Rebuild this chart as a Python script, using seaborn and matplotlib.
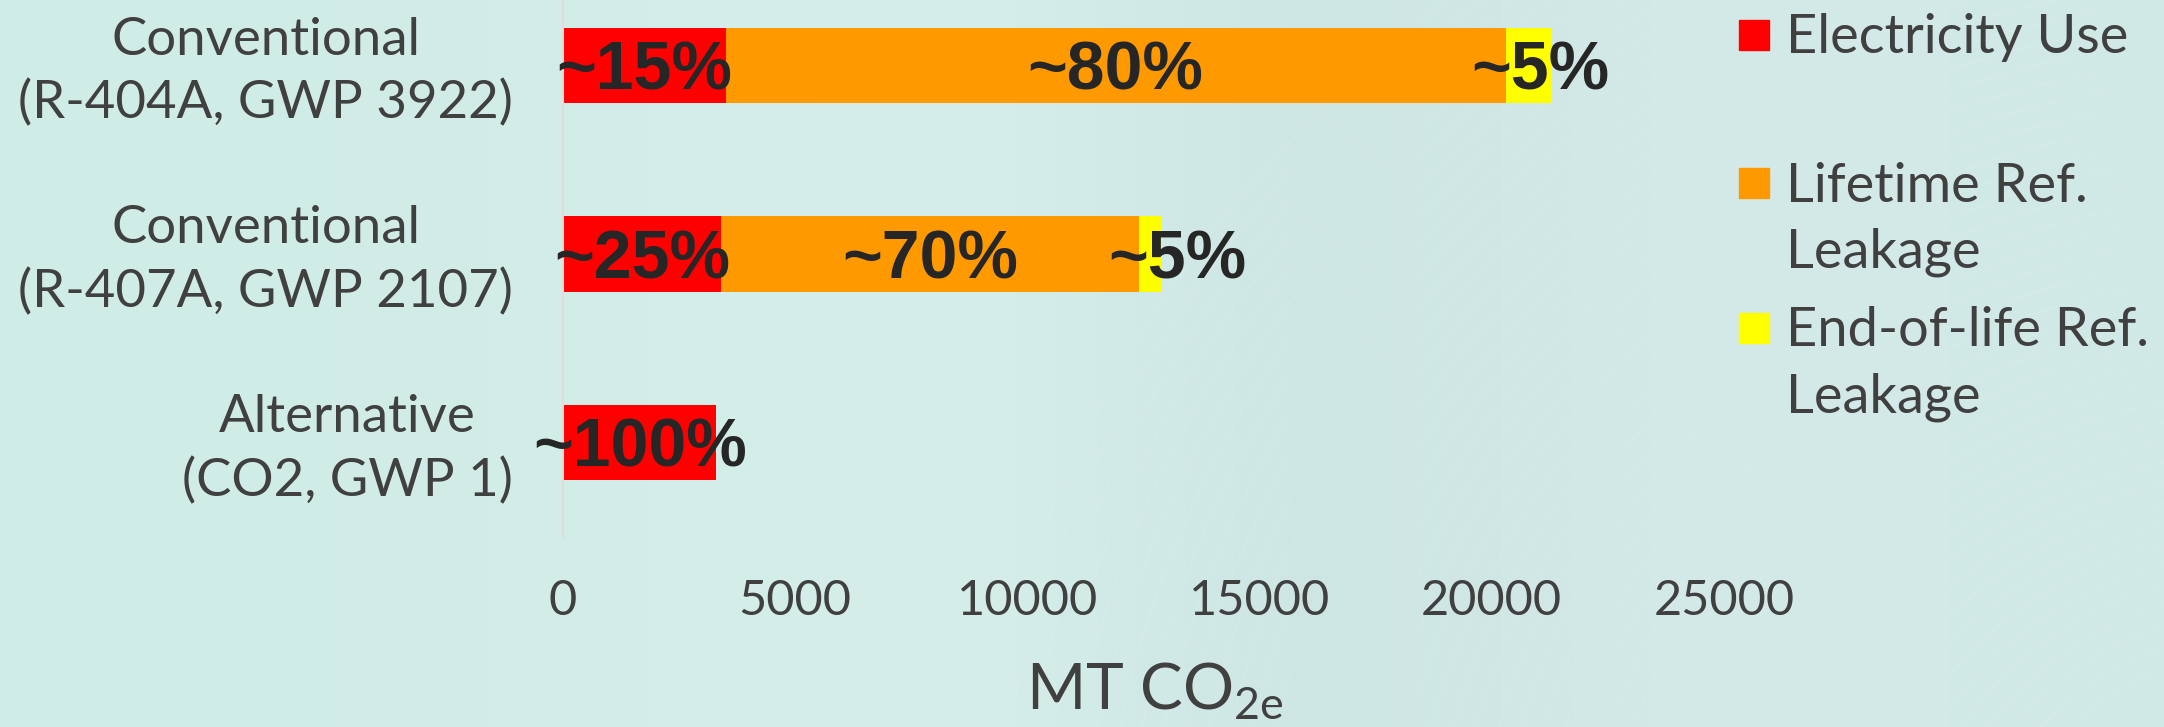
import numpy as np
import pandas as pd
import matplotlib
matplotlib.use("Agg")
import matplotlib.pyplot as plt
import matplotlib.transforms as mtransforms
from matplotlib.patches import Rectangle, Arc
import seaborn as sns

# ---- data -------------------------------------------------------------
categories = [
    "Conventional\n(R-404A, GWP 3922)",
    "Conventional\n(R-407A, GWP 2107)",
    "Alternative\n(CO2, GWP 1)",
]
electricity_use = [3500, 3400, 3300]        # MT CO2e
lifetime_leakage = [16800, 9000, 0]         # MT CO2e
end_of_life_leakage = [1000, 500, 0]        # MT CO2e

series_names = ["Electricity Use", "Lifetime Ref.\nLeakage", "End-of-life Ref.\nLeakage"]
series_colors = ["#ff0000", "#ff9900", "#ffff00"]
share_labels = [
    ["~15%", "~25%", "~100%"],
    ["~80%", "~70%", ""],
    ["~5%", "~5%", ""],
]
x_ticks = [0, 5000, 10000, 15000, 20000, 25000]

# ---- style ------------------------------------------------------------
sns.set_theme(style="white")
plt.rcParams["font.family"] = ["Lato", "DejaVu Sans"]
plt.rcParams["font.weight"] = "normal"
text_color = "#404040"

W, H = 2164, 727
fig = plt.figure(figsize=(W / 100, H / 100), dpi=100)

# soft mint backdrop with faint swirl lines
bg = fig.add_axes([0, 0, 1, 1], zorder=-10)
xs = np.linspace(0, 1, 400)
stops_x = [0.0, 0.45, 0.62, 0.8, 1.0]
stops_c = np.array([[207, 236, 230], [213, 238, 234], [205, 229, 227],
                    [212, 234, 232], [208, 233, 230]]) / 255.0
grad = np.stack([np.interp(xs, stops_x, stops_c[:, k]) for k in range(3)], axis=-1)
img = np.repeat(grad[None, :, :], 50, axis=0)
bg.imshow(img, extent=[0, W, 0, H], aspect="auto", origin="lower")
for r in np.arange(250, 1300, 22):
    bg.add_patch(Arc((2250, -150), 2 * r, 2 * r * 0.9, angle=10, theta1=90, theta2=200,
                     color="white", lw=0.8, alpha=0.10))
bg.set_xlim(0, W)
bg.set_ylim(0, H)
bg.axis("off")

# ---- main plot ----------------------------------------------------------
ax_left, ax_right = 563, 1724
ax_bottom, ax_top = 537, -29
ax = fig.add_axes([ax_left / W, 1 - ax_bottom / H, (ax_right - ax_left) / W,
                   (ax_bottom - ax_top) / H])
ax.set_facecolor("none")

df = pd.DataFrame({
    "category": categories,
    "elec": electricity_use,
    "life": lifetime_leakage,
    "eol": end_of_life_leakage,
})
df["to_life"] = df["elec"] + df["life"]
df["total"] = df["to_life"] + df["eol"]

# stacked bars drawn back to front as cumulative totals
for col, color in zip(["total", "to_life", "elec"], series_colors[::-1]):
    sns.barplot(data=df, x=col, y="category", color=color, width=0.4,
                saturation=1, linewidth=0, orient="h", ax=ax)

ax.set_xlim(0, 25000)
ax.set_ylim(2.5, -0.5)
ax.set_xticks(x_ticks)
ax.set_xticklabels([str(t) for t in x_ticks])
ax.tick_params(axis="x", length=0, pad=30, labelsize=35, labelcolor=text_color)
ax.tick_params(axis="y", length=0, pad=36, labelsize=38, labelcolor=text_color)
lift = mtransforms.ScaledTranslation(0, 4 / 72, fig.dpi_scale_trans)
for lbl in ax.get_yticklabels():
    lbl.set_multialignment("center")
    lbl.set_linespacing(1.4)
    lbl.set_transform(lbl.get_transform() + lift)
ax.set_ylabel("")
ax.set_xlabel("MT CO$_\\mathregular{2e}$", fontsize=46, color=text_color, labelpad=27)
ax.xaxis.label.set_x(0.5 + 11 / (ax_right - ax_left))

for side in ["top", "right", "bottom"]:
    ax.spines[side].set_visible(False)
ax.spines["left"].set_color("#e0dcdc")
ax.spines["left"].set_linewidth(1.5)
ax.grid(False)

# share labels centred on each segment; the thin end-of-life labels sit a
# little to the right so the tilde does not crowd the orange segment
starts = [np.zeros(3), np.array(electricity_use, float), df["to_life"].to_numpy(float)]
values = [electricity_use, lifetime_leakage, end_of_life_leakage]
label_nudge = {(2, 0): 8, (2, 1): 19}
label_size = 49
baseline_drop = -17.5  # points: puts the digits' middle on the bar centre
for s in range(3):
    for i in range(3):
        txt = share_labels[s][i]
        if not txt:
            continue
        cx = starts[s][i] + values[s][i] / 2.0
        dx = label_nudge.get((s, i), 0)
        ax.annotate(txt, xy=(cx, i), xytext=(dx, baseline_drop),
                    textcoords="offset points", ha="center", va="baseline",
                    fontsize=label_size, fontweight="bold", color="#262626",
                    family="Liberation Sans", annotation_clip=False)

# legend: square keys aligned with the first line of each entry
legend_y = [34, 182, 327]
legend_size = 39
line_gap = 66
cap_half = 0.72 * legend_size * 100 / 72 / 2
for name, color, y in zip(series_names, series_colors, legend_y):
    fig.patches.append(Rectangle((1739 / W, 1 - (y + 16) / H), 30 / W, 30 / H,
                                 transform=fig.transFigure, color=color,
                                 figure=fig))
    for k, line in enumerate(name.split("\n")):
        yb = y + cap_half + k * line_gap
        fig.text(1786 / W, 1 - yb / H, line, ha="left", va="baseline",
                 fontsize=legend_size, color=text_color)

fig.savefig("out.png", dpi=100)
